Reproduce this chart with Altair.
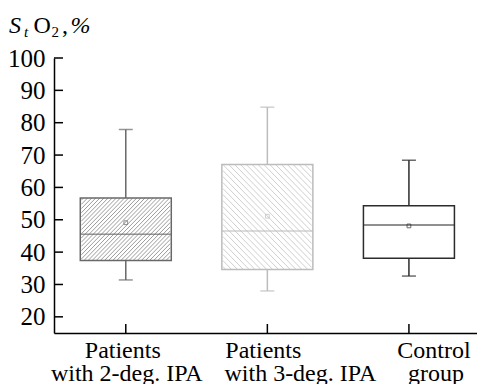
import altair as alt
import pandas as pd
import numpy as np

# ---- data ----
categories = ["Patients with 2-deg. IPA", "Patients with 3-deg. IPA", "Control group"]
label_line1 = ["Patients", "Patients", "Control"]
label_line2 = ["with 2-deg. IPA", "with 3-deg. IPA", "group"]
positions = [1, 2, 3]
whisker_low = [31.4, 28.0, 32.6]
q1 = [37.4, 34.6, 38.1]
median = [45.5, 46.5, 48.4]
q3 = [56.7, 67.1, 54.3]
whisker_high = [77.9, 84.8, 68.4]
mean = [49.1, 51.1, 48.1]
y_ticks = [20, 30, 40, 50, 60, 70, 80, 90, 100]

# ---- layout / style ----
W, H = 423, 275
PX_X = 145.0
D0 = 1 - 68.4 / PX_X
D1 = D0 + W / PX_X
Y0, Y1 = 15, 100
PX_Y = H / (Y1 - Y0)
BOX_W = 91
CAP_W = 14
edge_colors = ["#686868", "#bcbcbc", "#2c2c2c"]
hatch_colors = ["#9c9c9c", "#d0d0d0"]
hatch_dir = ["/", "\\", None]
hatch_step = [4.2, 6.0, None]
FONT = "Liberation Serif"
label_dx = [(-3, 1), (-4, 33), (25, 27)]

df = pd.DataFrame({
    "cat": categories, "pos": positions, "wlo": whisker_low, "q1": q1,
    "med": median, "q3": q3, "whi": whisker_high, "mean": mean,
    "l1": label_line1, "l2": label_line2,
})

# hatch segments derived from the box limits
rows = []
for i in range(len(categories)):
    if hatch_dir[i] is None:
        continue
    cx = (positions[i] - D0) * PX_X
    x0, x1 = cx - BOX_W / 2, cx + BOX_W / 2
    y0, y1 = (q1[i] - Y0) * PX_Y, (q3[i] - Y0) * PX_Y
    h = hatch_step[i]
    if hatch_dir[i] == "/":
        for c in np.arange(x0 - y1 + h / 2, x1 - y0, h):
            xs, xe = max(x0, y0 + c), min(x1, y1 + c)
            if xe - xs > 0.3:
                rows.append((categories[i], xs, xs - c, xe, xe - c))
    else:
        for c in np.arange(x0 + y0 + h / 2, x1 + y1, h):
            xs, xe = max(x0, c - y1), min(x1, c - y0)
            if xe - xs > 0.3:
                rows.append((categories[i], xs, c - xs, xe, c - xe))
hatch = pd.DataFrame(rows, columns=["cat", "xa", "ya", "xb", "yb"])
hatch["xa"] = D0 + hatch["xa"] / PX_X
hatch["xb"] = D0 + hatch["xb"] / PX_X
hatch["ya"] = Y0 + hatch["ya"] / PX_Y
hatch["yb"] = Y0 + hatch["yb"] / PX_Y

xscale = alt.Scale(domain=[D0, D1], nice=False, zero=False)
yscale = alt.Scale(domain=[Y0, Y1], nice=False, zero=False)
AX_X = alt.Axis(labels=False, ticks=False, grid=False, title=None,
                domainColor="black", domainWidth=1.5)
AX_Y = alt.Axis(values=y_ticks, labelFont=FONT, labelFontSize=25, labelColor="black",
                labelPadding=9, ticks=False, grid=False, title=None,
                domainColor="black", domainWidth=1.5)
edge = alt.Color("cat:N", scale=alt.Scale(domain=categories, range=edge_colors), legend=None)


def X(f):
    return alt.X(f, type="quantitative", scale=xscale, axis=AX_X)


def Y(f):
    return alt.Y(f, type="quantitative", scale=yscale, axis=AX_Y)


base = alt.Chart(df)

hatch_layer = alt.Chart(hatch).mark_rule(strokeWidth=1).encode(
    x=X("xa"), x2="xb", y=Y("ya"), y2="yb",
    stroke=alt.Stroke("cat:N", scale=alt.Scale(domain=categories[:2], range=hatch_colors), legend=None),
)

boxes = base.mark_bar(size=BOX_W, fillOpacity=0, strokeWidth=1.5).encode(
    x=X("pos"), y=Y("q1"), y2="q3",
    stroke=alt.Stroke("cat:N", scale=alt.Scale(domain=categories, range=edge_colors), legend=None),
)
med = base.mark_tick(orient="horizontal", size=BOX_W, thickness=1.5).encode(
    x=X("pos"), y=Y("med"), color=edge)
wh_up = base.mark_rule(strokeWidth=1.5).encode(x=X("pos"), y=Y("q3"), y2="whi", color=edge)
wh_dn = base.mark_rule(strokeWidth=1.5).encode(x=X("pos"), y=Y("wlo"), y2="q1", color=edge)
cap_up = base.mark_tick(orient="horizontal", size=CAP_W, thickness=1.5).encode(
    x=X("pos"), y=Y("whi"), color=edge)
cap_dn = base.mark_tick(orient="horizontal", size=CAP_W, thickness=1.5).encode(
    x=X("pos"), y=Y("wlo"), color=edge)
means = base.mark_point(shape="square", size=14, filled=False, strokeWidth=1).encode(
    x=X("pos"), y=Y("mean"), color=edge)

yt = alt.Chart(pd.DataFrame({"v": y_ticks})).mark_rule(color="black", strokeWidth=1.5).encode(
    y=Y("v"), x=alt.value(0), x2=alt.value(9))
xt = base.mark_rule(color="black", strokeWidth=1.5).encode(
    x=X("pos"), y=alt.value(H), y2=alt.value(H - 9))

labels = []
for i in range(len(categories)):
    sub = alt.Chart(df.iloc[[i]])
    labels.append(sub.mark_text(font=FONT, fontSize=24, color="black", align="center",
                                baseline="alphabetic", dx=label_dx[i][0]).encode(
        x=X("pos"), y=alt.value(H + 25), text="l1:N"))
    labels.append(sub.mark_text(font=FONT, fontSize=24, color="black", align="center",
                                baseline="alphabetic", dx=label_dx[i][1]).encode(
        x=X("pos"), y=alt.value(H + 48), text="l2:N"))

title_parts = [
    ("S", -45.0, -24.7, 24, "italic"),
    ("t", -30.0, -21.0, 15, "italic"),
    ("O", -20.5, -24.7, 24, "normal"),
    ("2", -2.5, -20.8, 15, "normal"),
    (",", 8.0, -24.7, 24, "normal"),
    ("%", 16.5, -24.7, 24, "italic"),
]
titles = []
for t, tx, ty, fs, st in title_parts:
    titles.append(alt.Chart(pd.DataFrame({"t": [t]})).mark_text(
        font=FONT, fontSize=fs, fontStyle=st, color="black", align="left", baseline="alphabetic"
    ).encode(x=alt.value(tx), y=alt.value(ty), text="t:N"))

chart = alt.layer(hatch_layer, boxes, med, wh_up, wh_dn, cap_up, cap_dn, means, yt, xt,
                  *labels, *titles).resolve_scale(color="independent", stroke="independent").properties(
    width=W, height=H,
    autosize=alt.AutoSizeParams(type="none"),
    padding={"left": 46, "top": 50, "right": 0, "bottom": 51},
    background="white",
).configure(font=FONT).configure_view(stroke=None)

chart.save("out.html", embed_options={"renderer": "svg", "actions": False})
